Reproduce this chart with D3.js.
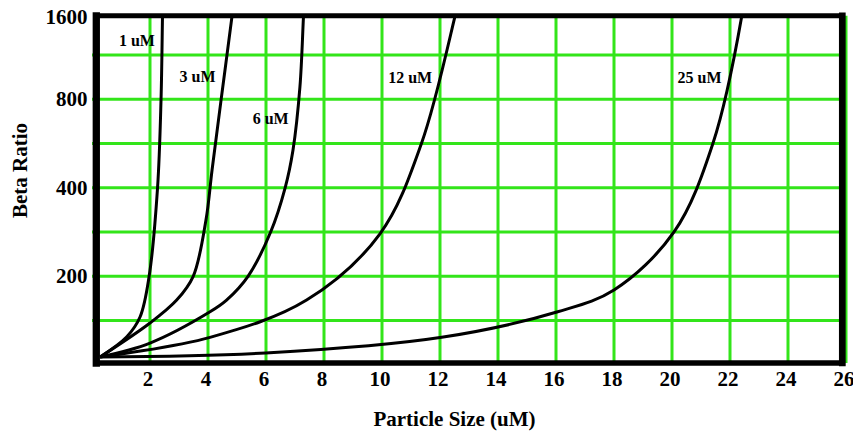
<!DOCTYPE html>
<html>
<head>
<meta charset="utf-8">
<script src="https://cdn.jsdelivr.net/npm/d3@7"></script>
<style>
  html, body { margin: 0; padding: 0; background: #fff; }
  svg { display: block; }
  text { font-family: "Liberation Serif", "Times New Roman", serif; font-weight: bold; fill: #000; }
</style>
</head>
<body>
<svg id="chart" width="853" height="432"></svg>
<script>
// ---- data (particle size in uM, beta ratio) ----
const seriesNames = ["1 uM", "3 uM", "6 uM", "12 uM", "25 uM"];
const s1uM  = [[0.28,106.3],[1.2,124.6],[1.66,145.7],[1.97,200],[2.26,400],[2.38,795],[2.43,1513],[2.44,1700]];
const s3uM  = [[0.28,106.3],[2.0,138.7],[2.92,166],[3.49,200],[3.93,311],[4.14,460],[4.45,795],[4.84,1566],[4.88,1700]];
const s6uM  = [[0.28,106.3],[2.0,118.6],[4.07,151.5],[4.64,166],[5.38,200],[6.16,283],[6.66,400],[6.93,537],[7.17,881],[7.29,1511],[7.32,1700]];
const s12uM = [[0.28,106.3],[4.07,124],[7.4,166],[9.93,279],[11.36,566],[12.5,1508],[12.62,1700]];
const s25uM = [[0.28,106.3],[5.99,109.7],[12.06,124],[16.06,151.5],[18.0,179.7],[20.07,283],[21.41,566],[22.4,1525],[22.46,1700]];
const seriesValues = [s1uM, s3uM, s6uM, s12uM, s25uM];
// label anchor points (data space)
const labelX = [1.55, 3.64, 6.16, 10.97, 20.95];
const labelY = [1263, 960, 691, 949, 949];

const xTicks = [2,4,6,8,10,12,14,16,18,20,22,24,26];
const yTicks = [200, 400, 800, 1600];
const yGrid  = [141.4, 200, 282.8, 400, 565.7, 800, 1131.4];

// ---- layout ----
const svg = d3.select("#chart");
const frame = { left: 96.3, right: 842.3, top: 15.8, bottom: 363 };
const green = "#33e51a";

const x = d3.scaleLinear().domain([0, 26]).range([92, 846]);
const y = d3.scaleLog().base(2).domain([100, 1600]).range([364.8, 10.8]);

// clip for curves
svg.append("defs").append("clipPath").attr("id", "plotclip")
  .append("rect")
  .attr("x", frame.left).attr("y", frame.top)
  .attr("width", frame.right - frame.left).attr("height", frame.bottom - frame.top);

// grid
const grid = svg.append("g");
grid.selectAll("line.h").data(yGrid).enter().append("line")
  .attr("x1", x(0)).attr("x2", x(26))
  .attr("y1", d => y(d)).attr("y2", d => y(d))
  .attr("stroke", green).attr("stroke-width", 3);
grid.selectAll("line.v").data(xTicks).enter().append("line")
  .attr("x1", d => x(d)).attr("x2", d => x(d))
  .attr("y1", frame.top).attr("y2", frame.bottom)
  .attr("stroke", green).attr("stroke-width", 3);

// curves
const line = d3.line()
  .x(d => x(d[0])).y(d => y(d[1]))
  .curve(d3.curveCatmullRom.alpha(0.5));
svg.append("g").attr("clip-path", "url(#plotclip)")
  .selectAll("path").data(seriesValues).enter().append("path")
  .attr("d", line)
  .attr("fill", "none").attr("stroke", "#000").attr("stroke-width", 3)
  .attr("stroke-linejoin", "round");

// frame
const fr = svg.append("g").attr("stroke", "#000").attr("stroke-linecap", "square");
fr.append("line").attr("x1", frame.left).attr("x2", frame.right).attr("y1", frame.top).attr("y2", frame.top).attr("stroke-width", 5);
fr.append("line").attr("x1", frame.left).attr("x2", frame.right).attr("y1", frame.bottom).attr("y2", frame.bottom).attr("stroke-width", 5.7);
fr.append("line").attr("x1", frame.left).attr("x2", frame.left).attr("y1", frame.top).attr("y2", frame.bottom).attr("stroke-width", 7.3);
fr.append("line").attr("x1", frame.right).attr("x2", frame.right).attr("y1", frame.top).attr("y2", frame.bottom).attr("stroke-width", 6.7);

// curve labels
svg.append("g").selectAll("text").data(seriesNames).enter().append("text")
  .attr("x", (d, i) => x(labelX[i]))
  .attr("y", (d, i) => y(labelY[i]))
  .attr("text-anchor", "middle").attr("dominant-baseline", "central")
  .style("font-size", "16px")
  .text(d => d);

// x tick labels
svg.append("g").selectAll("text").data(xTicks).enter().append("text")
  .attr("x", d => x(d) - 2)
  .attr("y", 386)
  .attr("text-anchor", "middle")
  .style("font-size", "21px")
  .text(d => d);

// y tick labels
svg.append("g").selectAll("text").data(yTicks).enter().append("text")
  .attr("x", 87.5)
  .attr("y", d => Math.max(y(d), frame.top + 1))
  .attr("text-anchor", "end").attr("dominant-baseline", "central")
  .style("font-size", "21px")
  .text(d => d);

// axis titles
svg.append("text")
  .attr("x", 454.5).attr("y", 426)
  .attr("text-anchor", "middle")
  .style("font-size", "21px")
  .text("Particle Size (uM)");
svg.append("text")
  .attr("transform", "translate(27,170.5) rotate(-90)")
  .attr("text-anchor", "middle")
  .style("font-size", "21px")
  .text("Beta Ratio");
</script>
</body>
</html>
